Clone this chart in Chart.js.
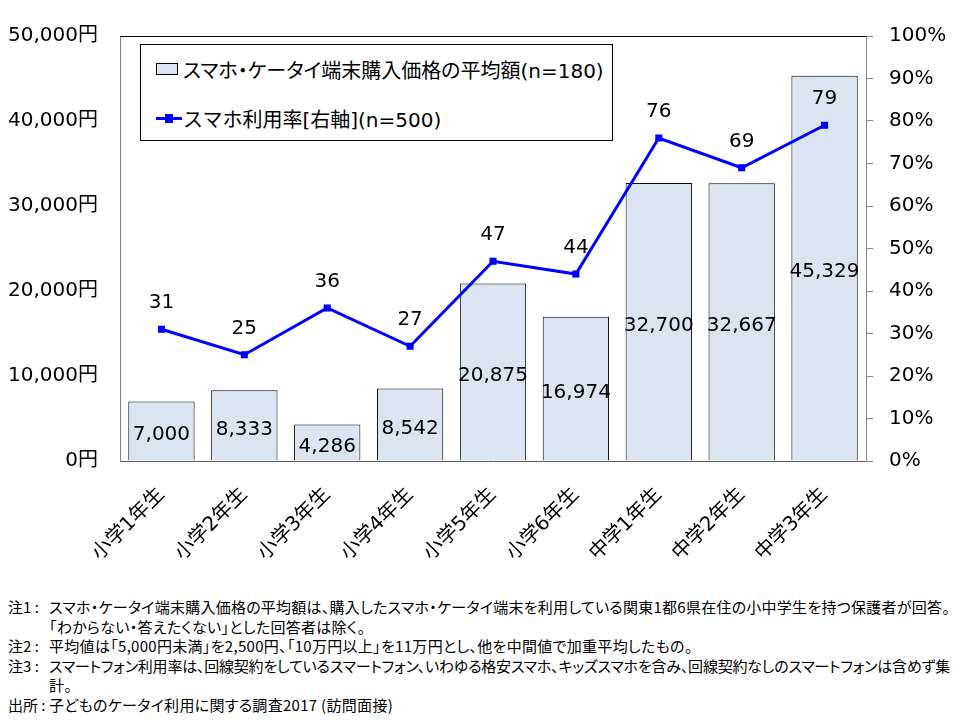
<!DOCTYPE html>
<html><head><meta charset="utf-8">
<script src="https://cdn.jsdelivr.net/npm/chart.js@4"></script>
<style>
body{margin:0;background:#fff;width:960px;height:720px;overflow:hidden;position:relative;font-family:"DejaVu Sans","Noto Sans CJK JP",sans-serif;color:#000}
#wrap{position:absolute;left:0;top:0;width:960px;height:590px}
#legend{position:absolute;left:140px;top:44px;width:471px;height:95px;border:1px solid #000;background:#fff;font-size:20px}
.li{position:absolute;left:15px;white-space:nowrap;display:flex;align-items:center;height:24px}
.sw{display:inline-block;width:20px;height:10px;border:1px solid #000;background:#DBE5F1;margin-right:5px}
.ln{display:inline-block;position:relative;width:26px;height:3px;background:#0000FF;margin-right:1px}
.ln i{position:absolute;left:9px;top:-3px;width:8px;height:9px;background:#0000FF}
#l1{font-feature-settings:"palt"}
#notes{position:absolute;left:8px;top:597px;font-family:"Noto Sans CJK JP",sans-serif;font-size:15px;line-height:19.5px;white-space:nowrap;font-feature-settings:"palt"}
#notes > div{display:flex}
#notes .p{display:inline-block;width:41px;flex:none;letter-spacing:0}
#notes .t{display:inline-block;letter-spacing:0.3px}
#notes .ind{padding-left:41px}
</style></head>
<body>
<div id="wrap"><canvas id="c"></canvas></div>
<div id="legend">
 <div class="li" style="top:12px"><span class="sw"></span><span id="l1"></span></div>
 <div class="li" style="top:61px"><span class="ln"><i></i></span><span id="l2"></span></div>
</div>
<div id="notes">
<div><span class="p">注1 :</span><span class="t" data-w="901">スマホ・ケータイ端末購入価格の平均額は、購入したスマホ・ケータイ端末を利用している関東1都6県在住の小中学生を持つ保護者が回答。</span></div>
<div class="ind"><span class="t">「わからない・答えたくない」とした回答者は除く。</span></div>
<div><span class="p">注2 :</span><span class="t">平均値は「5,000円未満」を2,500円、「10万円以上」を11万円とし、他を中間値で加重平均したもの。</span></div>
<div><span class="p">注3 :</span><span class="t" data-w="901">スマートフォン利用率は、回線契約をしているスマートフォン、いわゆる格安スマホ、キッズスマホを含み、回線契約なしのスマートフォンは含めず集</span></div>
<div class="ind"><span class="t">計。</span></div>
<div><span class="p">出所 :</span><span class="t">子どものケータイ利用に関する調査2017 (訪問面接)</span></div>
</div>
<script>
const categories = ["小学1年生","小学2年生","小学3年生","小学4年生","小学5年生","小学6年生","中学1年生","中学2年生","中学3年生"];
const priceAvg = [7000, 8333, 4286, 8542, 20875, 16974, 32700, 32667, 45329];
const smartphoneRate = [31, 25, 36, 27, 47, 44, 76, 69, 79];
const seriesNames = ["スマホ・ケータイ端末購入価格の平均額(n=180)", "スマホ利用率[右軸](n=500)"];
const leftTicks = [0, 10000, 20000, 30000, 40000, 50000];
const rightTicks = [0, 10, 20, 30, 40, 50, 60, 70, 80, 90, 100];

document.getElementById('l1').textContent = seriesNames[0];
document.getElementById('l2').textContent = seriesNames[1];

// fit the two long note lines to the reference width
document.querySelectorAll('#notes .t[data-w]').forEach(el => {
  el.style.letterSpacing = '0px';
  const w = el.getBoundingClientRect().width;
  const n = el.textContent.length;
  el.style.letterSpacing = ((+el.dataset.w - w) / n) + 'px';
});

const FONT = '"DejaVu Sans","Noto Sans CJK JP",sans-serif';
const fmt = v => String(v).replace(/\B(?=(\d{3})+(?!\d))/g, ',');

const labelPlugin = {
  id: 'lbl',
  afterDatasetsDraw(chart) {
    const ctx = chart.ctx;
    ctx.save();
    ctx.font = '20px ' + FONT;
    ctx.fillStyle = '#000';
    ctx.textAlign = 'center';
    ctx.textBaseline = 'middle';
    chart.getDatasetMeta(1).data.forEach((el, i) => {
      const p = el.getProps(['x', 'y', 'base'], true);
      ctx.fillText(fmt(priceAvg[i]), p.x, (p.y + p.base) / 2 + 4);
    });
    chart.getDatasetMeta(0).data.forEach((el, i) => {
      const p = el.getProps(['x', 'y'], true);
      ctx.fillText(String(smartphoneRate[i]), p.x, p.y - 26);
    });
    ctx.restore();
  },
  afterDraw(chart) {
    const a = chart.chartArea, ctx = chart.ctx;
    ctx.save();
    ctx.strokeStyle = '#000';
    ctx.lineWidth = 1;
    ctx.beginPath();
    ctx.moveTo(a.left, a.top + 0.5);
    ctx.lineTo(a.right, a.top + 0.5);
    ctx.stroke();
    ctx.restore();
  }
};

new Chart(document.getElementById('c'), {
  data: {
    labels: categories,
    datasets: [
      {
        type: 'line', label: seriesNames[1], data: smartphoneRate, yAxisID: 'y2', order: 0,
        borderColor: '#0000FF', backgroundColor: '#0000FF', borderWidth: 3,
        pointStyle: 'rect', pointRadius: 5, pointBorderWidth: 0, tension: 0
      },
      {
        type: 'bar', label: seriesNames[0], data: priceAvg, yAxisID: 'y', order: 1,
        backgroundColor: '#DBE5F1', borderColor: '#000', borderWidth: 1,
        barPercentage: 0.8, categoryPercentage: 1
      }
    ]
  },
  options: {
    responsive: true, maintainAspectRatio: false, animation: false,
    layout: { padding: { top: 36, left: 0, right: 0, bottom: 0 } },
    plugins: { legend: { display: false }, tooltip: { enabled: false } },
    scales: {
      x: {
        grid: { display: false, drawTicks: false },
        border: { color: '#595959', width: 1 },
        ticks: { color: '#000', font: { size: 20, family: FONT }, minRotation: 45, maxRotation: 45, padding: 22, autoSkip: false },
        afterFit: s => { s.height = 129; }
      },
      y: {
        position: 'left', min: 0, max: 50000,
        afterBuildTicks: s => { s.ticks = leftTicks.map(v => ({ value: v })); },
        grid: { drawOnChartArea: false, drawTicks: false },
        border: { color: '#868686', width: 1 },
        ticks: { color: '#000', font: { size: 20, family: FONT }, padding: 22, callback: v => fmt(v) + '円' },
        afterFit: s => { s.width = 120; }
      },
      y2: {
        position: 'right', min: 0, max: 100,
        afterBuildTicks: s => { s.ticks = rightTicks.map(v => ({ value: v })); },
        grid: { drawOnChartArea: false, drawTicks: true, tickLength: 7, color: '#868686' },
        border: { color: '#868686', width: 1 },
        ticks: { color: '#000', font: { size: 20, family: FONT }, padding: 16, callback: v => v + '%' },
        afterFit: s => { s.width = 94; }
      }
    }
  },
  plugins: [labelPlugin]
});
</script>
</body></html>
